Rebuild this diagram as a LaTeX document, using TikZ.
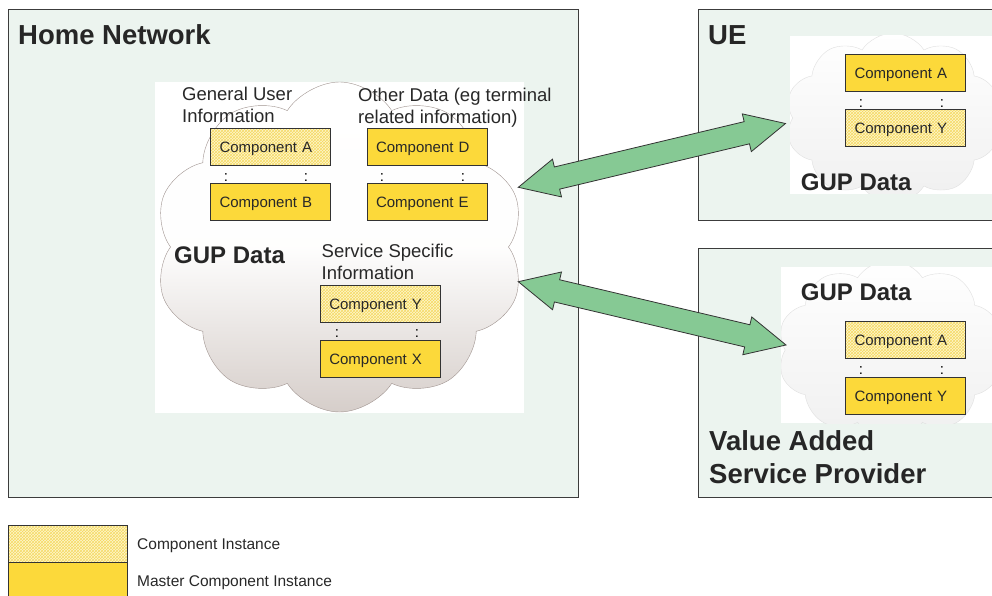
\documentclass[tikz,border=0pt]{standalone}
\usepackage{fontspec}
\setmainfont{Liberation Sans}
\usetikzlibrary{shapes.symbols,shapes.arrows,patterns,calc}
\definecolor{panelbg}{RGB}{236,244,239}
\definecolor{panelline}{RGB}{60,60,60}
\definecolor{master}{RGB}{252,217,58}
\definecolor{instbg}{RGB}{253,246,205}
\definecolor{instline}{RGB}{246,218,100}
\definecolor{arrowgreen}{RGB}{134,201,148}
\definecolor{cloudgray}{RGB}{214,206,202}
\definecolor{cloudline}{RGB}{160,148,144}
\definecolor{txt}{RGB}{40,40,40}
\begin{document}
\begin{tikzpicture}[x=1pt, y=-1pt,
		panel/.style={draw=panelline, fill=panelbg, line width=0.8pt},
		cloudbox/.style={cloud, cloud puffs=10, cloud puff arc=115, inner sep=0pt},
		masterfill/.style={fill=master},
		instfill/.style={preaction={fill=instbg}, pattern=crosshatch, pattern color=instline},
		comp/.style={draw=black!80, line width=0.7pt, minimum height=37pt, text width=102pt, align=left,
			inner xsep=9pt, inner ysep=0pt, text height=11pt, text depth=0pt, text=txt, font=\fontsize{15}{18}\selectfont},
		mastercomp/.style={comp, masterfill},
		instcomp/.style={comp, instfill},
		lbl/.style={anchor=base west, inner sep=0pt, align=left, text=txt, font=\fontsize{18.5}{22}\selectfont},
		title/.style={anchor=base west, inner sep=0pt, align=left, text=black!85, font=\bfseries\fontsize{27.5}{33}\selectfont},
		gup/.style={title, font=\bfseries\fontsize{24}{28}\selectfont},
		legend/.style={anchor=base west, inner sep=0pt, text=txt, font=\fontsize{15.5}{18}\selectfont},
		bigarrow/.style={double arrow, draw=black!80, fill=arrowgreen, line width=0.8pt, inner xsep=0pt,
			inner ysep=11pt, double arrow head extend=8pt, double arrow tip angle=52}]
		\clip (0,0) rectangle (992,596);
		\fill[white] (0,0) rectangle (992,596);
		
		%home network
		\draw[panel] (8.5,9) rectangle (578.5,497);
		\fill[white] (155,82) rectangle (524,413);
		\node[cloudbox, draw=cloudline, top color=white, bottom color=cloudgray, middle color=white!97!cloudgray,
			minimum width=370pt, minimum height=330pt] (hnCloud) at (339.5,247) {};
		\node[title] (hnTitle) at (18,45) {Home Network};
		\node[lbl] (guiLbl) at (182,122.7) {General User\\Information};
		\node[lbl] (otherLbl) at (358,124) {Other Data (eg terminal\\related information)};
		\node[gup] (hnGup) at (174,263) {GUP Data};
		\node[lbl] (sspLbl) at (321.5,279) {Service Specific\\Information};
		\node[instcomp] (hnA) at (270.5,146.7) {Component A};
		\node[mastercomp] (hnB) at (270.5,201.8) {Component B};
		\node[mastercomp] (hnD) at (427,146.7) {Component D};
		\node[mastercomp] (hnE) at (427,201.8) {Component E};
		\node[instcomp] (hnY) at (380.3,303.7) {Component Y};
		\node[mastercomp] (hnX) at (380.3,358.7) {Component X};
		
		%UE
		\draw[panel] (698.5,9) rectangle (1000,220);
		\fill[white] (790,36) rectangle (1000,193.5);
		\begin{scope}
			\clip (790,36) rectangle (992,193.5);
			\node[cloudbox, draw=black!12, top color=white, bottom color=black!6,
				minimum width=215pt, minimum height=170pt] (ueCloud) at (893,118) {};
		\end{scope}
		\node[title] (ueTitle) at (708,45) {UE};
		\node[mastercomp] (ueA) at (905.5,72.8) {Component A};
		\node[instcomp] (ueY) at (905.5,128.3) {Component Y};
		\node[gup] (ueGup) at (800.7,190) {GUP Data};
		
		%value added service provider
		\draw[panel] (698.5,248.5) rectangle (1000,497.5);
		\fill[white] (781,266.7) rectangle (1000,423);
		\begin{scope}
			\clip (781,266.7) rectangle (992,423);
			\node[cloudbox, draw=black!12, top color=white, bottom color=black!6,
				minimum width=225pt, minimum height=180pt] (vaspCloud) at (890,350) {};
		\end{scope}
		\node[gup] (vaspGup) at (800.7,300) {GUP Data};
		\node[instcomp] (vaspA) at (905.5,340.3) {Component A};
		\node[mastercomp] (vaspY) at (905.5,395.5) {Component Y};
		\node[title] (vaspTitle) at (709,483) {Value Added\\Service Provider};
		
		%dots between components
		\foreach \x/\y in {226/178, 306/178, 382/178, 463/178, 337/334, 417/334,
			861/104, 942/104, 861/371, 942/371}{
			\node[inner sep=0pt, font=\fontsize{15}{15}\selectfont] at (\x,\y) {:};
		}
		
		%links
		\coordinate (hnOutA) at (518.3,187.3);
		\coordinate (ueIn) at (785.5,123.5);
		\coordinate (hnOutB) at (518.3,281.7);
		\coordinate (vaspIn) at (786,345);
		\path let \p1=($(ueIn)-(hnOutA)$) in
			node[bigarrow, rotate={atan2(\y1,\x1)}, minimum height={veclen(\x1,\y1)}] (ueLink) at ($(hnOutA)!0.5!(ueIn)$) {};
		\path let \p1=($(vaspIn)-(hnOutB)$) in
			node[bigarrow, rotate={atan2(\y1,\x1)}, minimum height={veclen(\x1,\y1)}] (vaspLink) at ($(hnOutB)!0.5!(vaspIn)$) {};
		
		%legend
		\draw[instfill, draw=black!80, line width=0.7pt] (8.5,525) rectangle (127.5,562.3);
		\draw[masterfill, draw=black!80, line width=0.7pt] (8.5,562.3) rectangle (127.5,600);
		\node[legend] (lgInst) at (137,549) {Component Instance};
		\node[legend] (lgMaster) at (137,586.7) {Master Component Instance};
\end{tikzpicture}
\end{document}
